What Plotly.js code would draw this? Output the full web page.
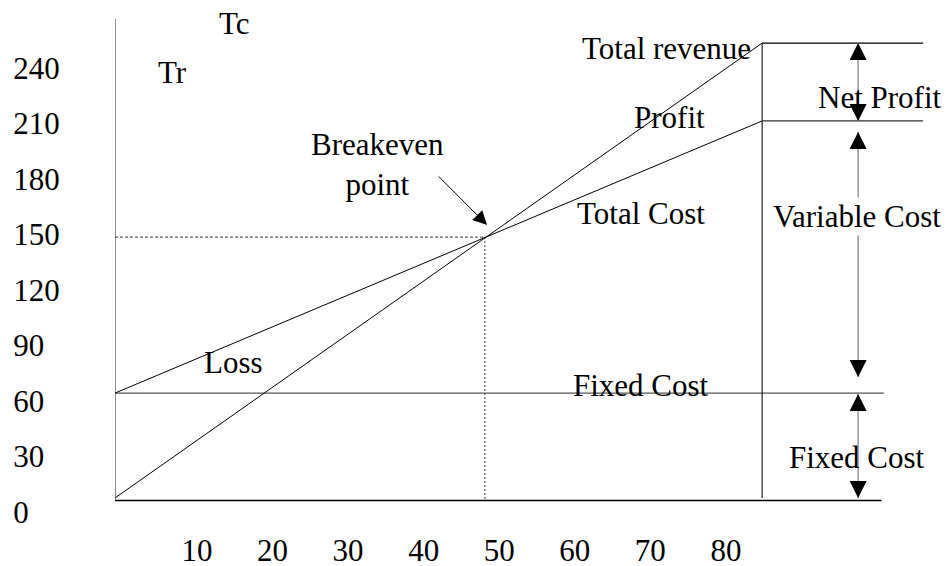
<!DOCTYPE html>
<html>
<head>
<meta charset="utf-8">
<script src="https://cdn.plot.ly/plotly-3.0.1.min.js"></script>
<style>html,body{margin:0;padding:0;background:#fff;}#chart{width:952px;height:566px;}</style>
</head>
<body>
<div id="chart"></div>
<script>
// ---- data, in the picture's own tick-label units ----
const xTickVals = [10, 20, 30, 40, 50, 60, 70, 80];
const xTickLabels = ['10', '20', '30', '40', '50', '60', '70', '80'];
const yTickVals = [0, 30, 60, 90, 120, 150, 180, 210, 240];
const yTickLabels = ['0', '30', '60', '90', '120', '150', '180', '210', '240'];

const qStart = -0.85;          // output where the lines start (vertical axis)
const qEnd = 84.8;             // output where the lines end
const qBreakeven = 48.1;
const vBreakeven = 148.6;

const revenueQ = [qStart, qEnd];
const revenueV = [7.6, 253.5];
const totalCostQ = [qStart, qEnd];
const totalCostV = [64.3, 211.4];
const fixedCostQ = [qStart, 100.9];
const fixedCostV = [64.3, 64.3];

const xAxisQ = [qStart, 100.6];
const xAxisV = [6.2, 6.2];
const yAxisQ = [qStart, qStart];
const yAxisV = [6.2, 266.5];

const endLineQ = [qEnd, qEnd];
const endLineV = [7.6, 253.5];
const revenueLevelQ = [qEnd, 106.1];
const revenueLevelV = [253.5, 253.5];
const costLevelQ = [qEnd, 106.1];
const costLevelV = [211.4, 211.4];

const guideHQ = [qStart, qBreakeven];
const guideHV = [vBreakeven, vBreakeven];
const guideVQ = [qBreakeven, qBreakeven];
const guideVV = [vBreakeven, 6.2];

const bracketQ = 97.5;
const netProfitV = [253.5, 211.4];
const variableCostV = [205.4, 73.0];
const fixedBracketV = [63.8, 7.6];

const pointerFrom = [41.8, 182.2];
const pointerTo = [48.4, 155.1];

// ---- drawing ----
const FONT = '"Liberation Serif", "Times New Roman", serif';
const FS = 31;

function seg(x, y, color, width, dash) {
  return {x: x, y: y, mode: 'lines', type: 'scatter', hoverinfo: 'skip', showlegend: false,
          line: {color: color, width: width, dash: dash || 'solid'}};
}
const traces = [
  seg(xAxisQ, xAxisV, '#000', 1.6),
  seg(yAxisQ, yAxisV, '#444', 1.2),
  seg(guideHQ, guideHV, '#333', 1, '3px,2px'),
  seg(guideVQ, guideVV, '#777', 1.5, '2px,2px'),
  seg(fixedCostQ, fixedCostV, '#555', 1.4),
  seg(revenueQ, revenueV, '#000', 1),
  seg(totalCostQ, totalCostV, '#000', 1),
  seg(endLineQ, endLineV, '#222', 1.2),
  seg(revenueLevelQ, revenueLevelV, '#000', 1.2),
  seg(costLevelQ, costLevelV, '#333', 1.2),
  seg([bracketQ, bracketQ], netProfitV, '#888', 1.3),
  seg([bracketQ, bracketQ], variableCostV, '#777', 1.2),
  seg([bracketQ, bracketQ], fixedBracketV, '#888', 1.3)
];

function label(text, x, y, extra) {
  return Object.assign({text: text, x: x, y: y, xref: 'x', yref: 'y', showarrow: false,
    xanchor: 'center', yanchor: 'middle', font: {family: FONT, size: FS, color: '#000'}}, extra || {});
}
function head(tipV, dir) {
  return {text: '', x: bracketQ, y: tipV, ax: bracketQ, ay: tipV - dir * 9,
          xref: 'x', yref: 'y', axref: 'x', ayref: 'y', showarrow: true,
          arrowhead: 2, arrowsize: 3.4, arrowwidth: 1, arrowcolor: '#000'};
}

const annotations = [
  label('Tc', 14.9, 264.3),
  label('Tr', 6.7, 237.8),
  label('Total revenue', 72.2, 250.8),
  label('Profit', 72.5, 213),
  label('Net Profit', 100.4, 224.3),
  label('Breakeven<br>point', 33.9, 188.1),
  label('Total Cost', 68.8, 161.6),
  label('Variable Cost', 97.3, 159.5, {bgcolor: '#fff'}),
  label('Loss', 14.8, 81.1),
  label('Fixed Cost', 68.8, 68.6),
  label('Fixed Cost', 97.3, 29.7),
  head(netProfitV[0], 1), head(netProfitV[1], -1),
  head(variableCostV[0], 1), head(variableCostV[1], -1),
  head(fixedBracketV[0], 1), head(fixedBracketV[1], -1),
  {text: '', x: pointerTo[0], y: pointerTo[1], ax: pointerFrom[0], ay: pointerFrom[1],
   xref: 'x', yref: 'y', axref: 'x', ayref: 'y', showarrow: true,
   arrowhead: 2, arrowsize: 2.8, arrowwidth: 1, arrowcolor: '#000'}
];

const pad = s => s + '\u00A0'.repeat(2 * (3 - s.length));

const layout = {
  width: 952, height: 566,
  margin: {l: 115, r: 7, t: 19, b: 46},
  paper_bgcolor: '#fff', plot_bgcolor: '#fff',
  font: {family: FONT, size: FS, color: '#000'},
  xaxis: {range: [-0.85, 109.0], showgrid: false, zeroline: false, showline: false,
          tickvals: xTickVals, ticktext: xTickLabels, ticks: 'outside', ticklen: 3,
          tickcolor: 'rgba(0,0,0,0)', tickfont: {family: FONT, size: FS, color: '#000'}},
  yaxis: {range: [-4.3, 266.5], showgrid: false, zeroline: false, showline: false,
          tickvals: yTickVals, ticktext: yTickLabels.map(pad), ticks: 'outside', ticklen: 48,
          tickcolor: 'rgba(0,0,0,0)', tickfont: {family: FONT, size: FS, color: '#000'}},
  annotations: annotations
};

Plotly.newPlot('chart', traces, layout, {displayModeBar: false, staticPlot: true});
</script>
</body>
</html>
